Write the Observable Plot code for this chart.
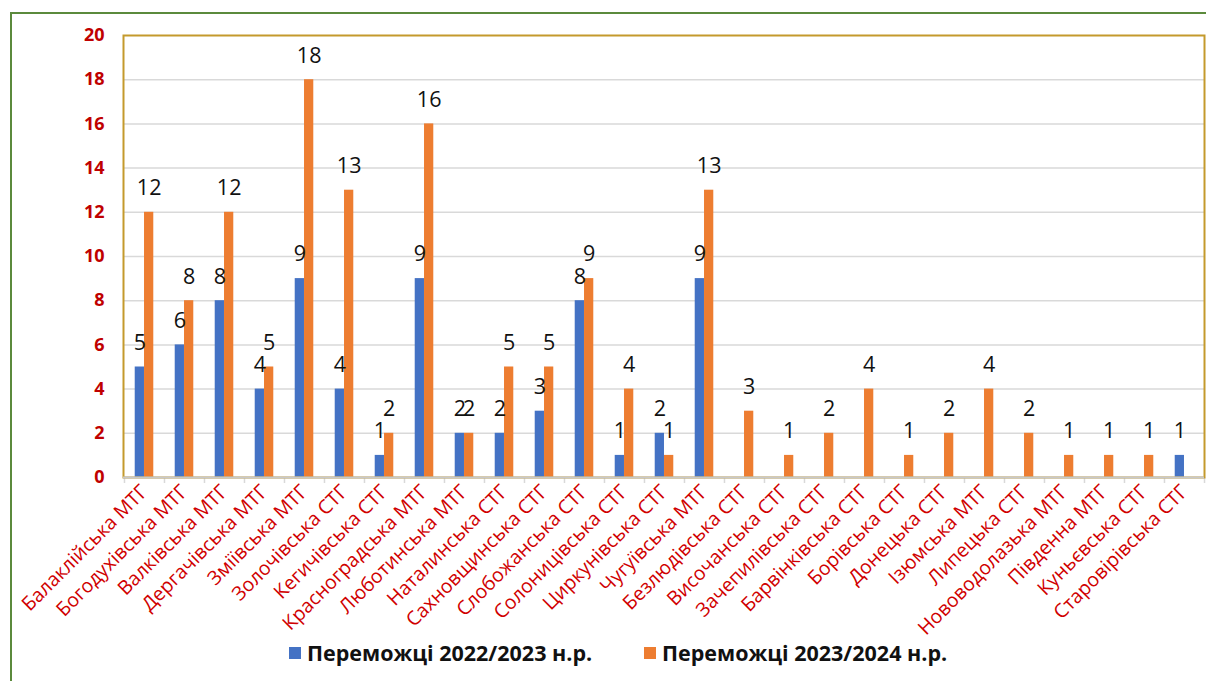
<!DOCTYPE html>
<html><head><meta charset="utf-8">
<script src="https://cdn.jsdelivr.net/npm/d3@7"></script>
<script src="https://cdn.jsdelivr.net/npm/@observablehq/plot@0.6"></script>
<style>
body{margin:0;background:#fff;font-family:"Open Sans",sans-serif;}
#wrap{position:relative;width:1206px;height:681px;overflow:hidden;background:#fff;}
#border{position:absolute;left:10px;top:12px;width:1400px;height:900px;border:2px solid #5b8a3c;box-sizing:border-box;}
#chart{position:absolute;left:0;top:0;}
.leg{position:absolute;top:638px;display:flex;align-items:center;font-weight:bold;font-size:21.5px;color:#111;white-space:nowrap;}
.sw{width:12px;height:12px;margin-right:6px;}
</style></head>
<body>
<div id="wrap">
  <div id="border"></div>
  <div id="chart"></div>
  <div id="legend"></div>
</div>
<script>
const categories = [
  "Балаклійська МТГ","Богодухівська МТГ","Валківська МТГ","Дергачівська МТГ","Зміївська МТГ",
  "Золочівська СТГ","Кегичівська СТГ","Красноградська МТГ","Люботинська МТГ","Наталинська СТГ",
  "Сахновщинська СТГ","Слобожанська СТГ","Солоницівська СТГ","Циркунівська СТГ","Чугуївська МТГ",
  "Безлюдівська СТГ","Височанська СТГ","Зачепилівська СТГ","Барвінківська СТГ","Борівська СТГ",
  "Донецька СТГ","Ізюмська МТГ","Липецька СТГ","Нововодолазька МТГ","Південна МТГ",
  "Куньєвська СТГ","Старовірівська СТГ"
];
const winners2022 = [5,6,8,4,9,4,1,9,2,2,3,8,1,2,9,0,0,0,0,0,0,0,0,0,0,0,1];
const winners2023 = [12,8,12,5,18,13,2,16,2,5,5,9,4,1,13,3,1,2,4,1,2,4,2,1,1,1,0];
const seriesNames = ["Переможці 2022/2023 н.р.","Переможці 2023/2024 н.р."];
const seriesColors = ["#4472c4","#ed7d31"];
const yTicks = [0,2,4,6,8,10,12,14,16,18,20];

const data = categories.map((c,i)=>({cat:c, v1:winners2022[i], v2:winners2023[i]}));

const W=1206, H=640, mL=123, mR=2, mT=35, mB=H-477;
const bw=(W-mL-mR)/categories.length;
const barW=9.3;

const chart = Plot.plot({
  width:W, height:H, marginLeft:mL, marginRight:mR, marginTop:mT, marginBottom:mB,
  style:{fontFamily:"Open Sans", background:"transparent", overflow:"visible"},
  x:{domain:categories, padding:0, axis:null},
  y:{domain:[0,20], axis:null},
  marks:[
    Plot.gridY(yTicks.filter(t=>t>0 && t<20), {stroke:"#d9d9d9", strokeOpacity:1, strokeWidth:1.5}),
    Plot.barY(data, {x:"cat", y:"v1", fill:seriesColors[0], insetLeft:bw/2-barW, insetRight:bw/2}),
    Plot.barY(data, {x:"cat", y:"v2", fill:seriesColors[1], insetLeft:bw/2, insetRight:bw/2-barW}),
    Plot.text(data, {filter:d=>d.v1>0, x:"cat", y:"v1", text:"v1", dx:-barW/2, dy:-24, fontSize:21.5, fill:"#111"}),
    Plot.text(data, {filter:d=>d.v2>0, x:"cat", y:"v2", text:"v2", dx:barW/2, dy:-24, fontSize:21.5, fill:"#111"}),
    Plot.ruleX(categories, {x:d=>d, dx:-bw/2, y1:0, y2:0, insetBottom:-6, stroke:"#d9d9d9", strokeWidth:1.5}),
    Plot.ruleX([categories[categories.length-1]], {x:d=>d, dx:bw/2, y1:0, y2:0, insetBottom:-6, stroke:"#d9d9d9", strokeWidth:1.5}),
    Plot.frame({stroke:"#c49a2c", strokeWidth:2}),
    Plot.ruleY([0], {stroke:"#c8c8c8", strokeWidth:2}),
    Plot.axisY({ticks:yTicks, tickSize:0, tickPadding:19, fontSize:18, fontWeight:"bold", fill:"#c00000", label:null}),
    Plot.axisX({tickSize:0, tickRotate:-45, tickPadding:11, fontSize:19.5, fill:"#d00000", label:null})
  ]
});
document.getElementById("chart").appendChild(chart);

const legend = document.getElementById("legend");
const legendX = [289, 644];
seriesNames.forEach((n,i)=>{
  const d=document.createElement("div");
  d.className="leg"; d.style.left=legendX[i]+"px";
  d.innerHTML=`<div class="sw" style="background:${seriesColors[i]}"></div><span>${n}</span>`;
  legend.appendChild(d);
});
</script>
</body></html>
